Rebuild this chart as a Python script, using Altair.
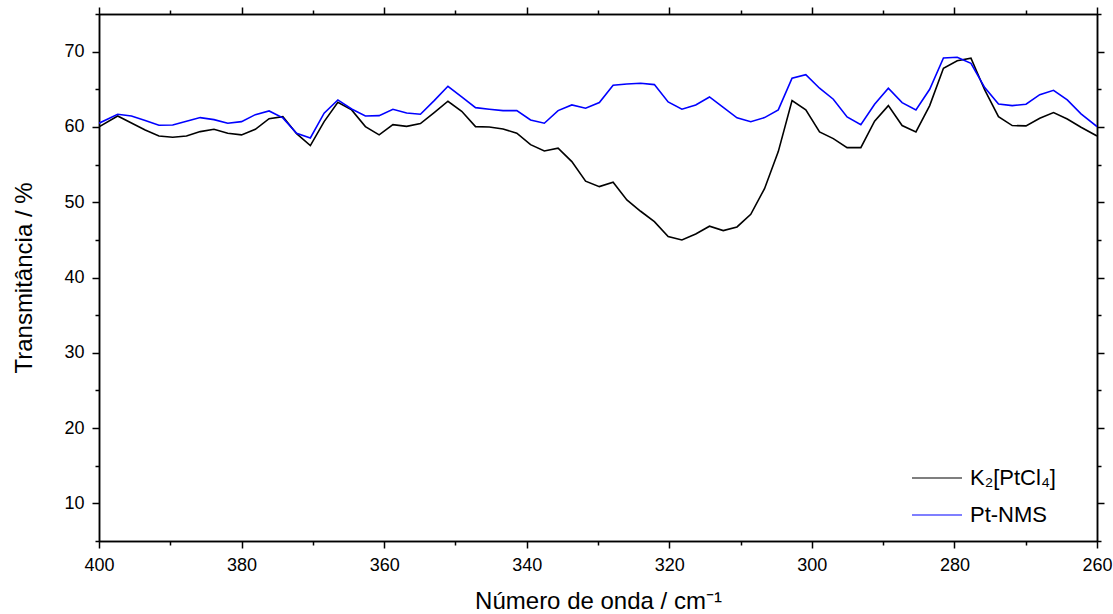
import altair as alt
import pandas as pd

# wavenumber (cm-1)
wavenumber = [400.00, 397.38, 395.45, 393.52, 391.59, 389.66, 387.73, 385.80, 383.87, 381.94,
              380.01, 378.07, 376.14, 374.21, 372.28, 370.35, 368.42, 366.49, 364.56, 362.63,
              360.70, 358.77, 356.84, 354.91, 352.98, 351.05, 349.12, 347.18, 345.25, 343.32,
              341.39, 339.46, 337.53, 335.60, 333.67, 331.74, 329.81, 327.88, 325.95, 324.02,
              322.09, 320.16, 318.23, 316.29, 314.36, 312.43, 310.50, 308.57, 306.64, 304.71,
              302.78, 300.85, 298.92, 296.99, 295.06, 293.13, 291.20, 289.27, 287.34, 285.40,
              283.47, 281.54, 279.61, 277.68, 275.75, 273.82, 271.89, 269.96, 268.03, 266.10,
              264.17, 262.24, 260.00]

k2ptcl4 = [60.0, 61.46, 60.53, 59.60, 58.80, 58.63, 58.80, 59.38, 59.69, 59.16,
           58.94, 59.69, 61.10, 61.37, 59.10, 57.52, 60.70, 63.28, 62.26, 60.04,
           58.94, 60.31, 60.08, 60.45, 61.90, 63.41, 62.08, 60.04, 60.00, 59.73,
           59.16, 57.65, 56.81, 57.17, 55.39, 52.79, 52.07, 52.65, 50.31, 48.80,
           47.42, 45.43, 44.99, 45.79, 46.81, 46.23, 46.72, 48.40, 51.80, 56.72,
           63.50, 62.26, 59.34, 58.45, 57.25, 57.25, 60.76, 62.83, 60.18, 59.34,
           62.83, 67.79, 68.80, 69.12, 64.91, 61.37, 60.18, 60.14, 61.15, 61.90,
           61.06, 59.96, 58.80]

pt_nms = [60.49, 61.69, 61.46, 60.84, 60.22, 60.26, 60.76, 61.24, 60.97, 60.49,
          60.70, 61.63, 62.12, 61.20, 59.16, 58.54, 61.82, 63.59, 62.39, 61.46,
          61.50, 62.35, 61.86, 61.69, 63.50, 65.40, 63.98, 62.56, 62.35, 62.17,
          62.17, 60.93, 60.49, 62.17, 62.92, 62.48, 63.23, 65.53, 65.71, 65.80,
          65.62, 63.32, 62.35, 62.92, 63.98, 62.61, 61.20, 60.70, 61.24, 62.26,
          66.47, 66.95, 65.14, 63.68, 61.33, 60.31, 63.01, 65.14, 63.23, 62.26,
          65.00, 69.16, 69.25, 68.45, 65.22, 63.05, 62.83, 63.01, 64.29, 64.87,
          63.59, 61.73, 60.04]

series_names = ["K\u2082[PtCl\u2084]", "Pt-NMS"]
series_colors = ["#000000", "#0000ff"]

x_major = [400, 380, 360, 340, 320, 300, 280, 260]
x_minor = [390, 370, 350, 330, 310, 290, 270]
y_major = [10, 20, 30, 40, 50, 60, 70]
y_minor = [5, 15, 25, 35, 45, 55, 65, 75]

rows = []
for name, vals in zip(series_names, [k2ptcl4, pt_nms]):
    for w, v in zip(wavenumber, vals):
        rows.append({"w": w, "t": v, "s": name})
df = pd.DataFrame(rows)

FONT = "Liberation Sans"
xs = alt.Scale(domain=[260, 400], reverse=True, nice=False, zero=False)
ys = alt.Scale(domain=[5, 75], nice=False, zero=False)

common_axis = dict(domainColor="black", domainWidth=1.5, tickColor="black", tickWidth=1.5,
                   grid=False, labelFont=FONT, titleFont=FONT, labelColor="black",
                   titleColor="black")

x_main = alt.Axis(orient="bottom", values=x_major, tickSize=7, labelPadding=8, labelFontSize=18,
                  labelFontWeight="normal", title="Número de onda / cm\u207b\u00b9",
                  titleFontSize=24, titleFontWeight="normal", titleBaseline="alphabetic",
                  titleY=67, labelFlush=False, **common_axis)
y_main = alt.Axis(orient="left", values=y_major, tickSize=7, labelPadding=8, labelFontSize=18,
                  title="Transmitância / %", titleFontSize=24, titleFontWeight="normal",
                  titleAngle=270, titleBaseline="alphabetic", titleX=-68, labelFlush=False,
                  **common_axis)

lines = alt.Chart(df).mark_line(strokeWidth=1.6, clip=True).encode(
    x=alt.X("w:Q", scale=xs, axis=x_main),
    y=alt.Y("t:Q", scale=ys, axis=y_main),
    color=alt.Color("s:N", sort=series_names,
                    scale=alt.Scale(domain=series_names, range=series_colors),
                    legend=alt.Legend(title=None, orient="none", legendX=812, legendY=438,
                                      symbolType="stroke", symbolSize=2500, symbolStrokeWidth=1.2,
                                      labelFont=FONT, labelFontSize=22, labelColor="black",
                                      labelOffset=7, rowPadding=-15, padding=0)),
    detail="s:N",
)


def tick_layer(xorient, yorient, xvals, yvals, size):
    ax = alt.Axis(orient=xorient, values=xvals, tickSize=size, labels=False, title=None,
                  domain=True, **common_axis)
    ay = alt.Axis(orient=yorient, values=yvals, tickSize=size, labels=False, title=None,
                  domain=True, **common_axis)
    return alt.Chart(df).mark_line(opacity=0, clip=True).encode(
        x=alt.X("w:Q", scale=xs, axis=ax),
        y=alt.Y("t:Q", scale=ys, axis=ay),
        detail="s:N",
    )


chart = alt.layer(
    lines,
    tick_layer("bottom", "left", x_minor, y_minor, 4),
    tick_layer("top", "right", x_major, y_major, 7),
    tick_layer("top", "right", x_minor, y_minor, 4),
).resolve_axis(x="independent", y="independent").properties(
    width=998, height=527,
    autosize=alt.AutoSizeParams(type="none"),
    padding={"left": 99, "top": 14, "right": 16, "bottom": 73},
).configure_view(stroke=None).configure(background="white")

chart.save("out.html", embed_options={"renderer": "svg", "actions": False})
